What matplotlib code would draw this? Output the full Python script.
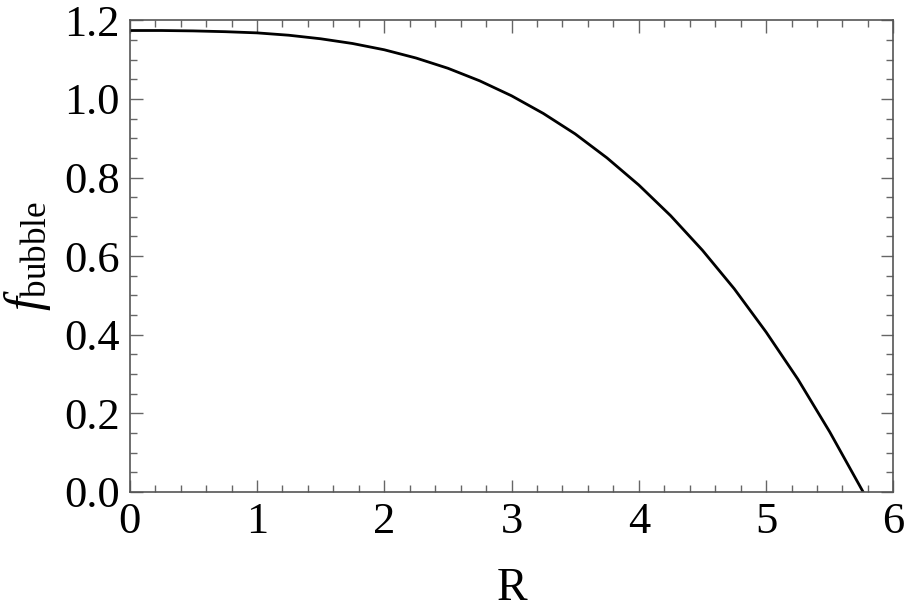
import numpy as np
import matplotlib
matplotlib.use("Agg")
import matplotlib.pyplot as plt
from matplotlib.ticker import MultipleLocator

plt.rcParams['font.family'] = ['Liberation Serif', 'DejaVu Serif']
plt.rcParams['mathtext.fontset'] = 'custom'
plt.rcParams['mathtext.rm'] = 'Liberation Serif'
plt.rcParams['mathtext.it'] = 'Liberation Serif:italic'

# values
R = [0.0, 0.25, 0.5, 0.75, 1.0, 1.25, 1.5, 1.75, 2.0, 2.25, 2.5, 2.75,
     3.0, 3.25, 3.5, 3.75, 4.0, 4.25, 4.5, 4.75, 5.0, 5.25, 5.5, 5.763]
f_bubble = [1.174, 1.174, 1.173, 1.171, 1.168, 1.162, 1.153, 1.141, 1.125,
            1.104, 1.078, 1.046, 1.008, 0.963, 0.911, 0.850, 0.781, 0.703,
            0.615, 0.517, 0.407, 0.287, 0.153, 0.0]

x_ticks = [0, 1, 2, 3, 4, 5, 6]
y_ticks = [0.0, 0.2, 0.4, 0.6, 0.8, 1.0, 1.2]

fig = plt.figure(figsize=(9.05, 6.13), dpi=100)
ax = fig.add_axes([0.1433, 0.1974, 0.8438, 0.7695])

ax.plot(R, f_bubble, color='black', lw=2.0, solid_joinstyle='round')

ax.set_xlim(0, 6)
ax.set_ylim(0, 1.2)
ax.set_xticks(x_ticks)
ax.set_yticks(y_ticks)
ax.set_xticklabels([str(t) for t in x_ticks])
ax.set_yticklabels(['%.1f' % t for t in y_ticks])
ax.xaxis.set_minor_locator(MultipleLocator(0.2))
ax.yaxis.set_minor_locator(MultipleLocator(0.05))

ax.tick_params(which='both', direction='in', top=True, right=True,
               color='#666666', width=1.0, labelsize=32)
ax.tick_params(which='major', length=9)
ax.tick_params(which='minor', length=5)
ax.tick_params(axis='y', pad=7)
ax.tick_params(axis='x', pad=7)
for s in ax.spines.values():
    s.set_color('#555555')
    s.set_linewidth(1.2)

ax.set_xlabel('R', fontsize=33)
ax.set_ylabel(r'$f_{\mathrm{bubble}}$', fontsize=36)
ax.xaxis.set_label_coords(0.5, -0.16)
ax.yaxis.set_label_coords(-0.1, 0.50)

fig.savefig('out.png', dpi=100)
